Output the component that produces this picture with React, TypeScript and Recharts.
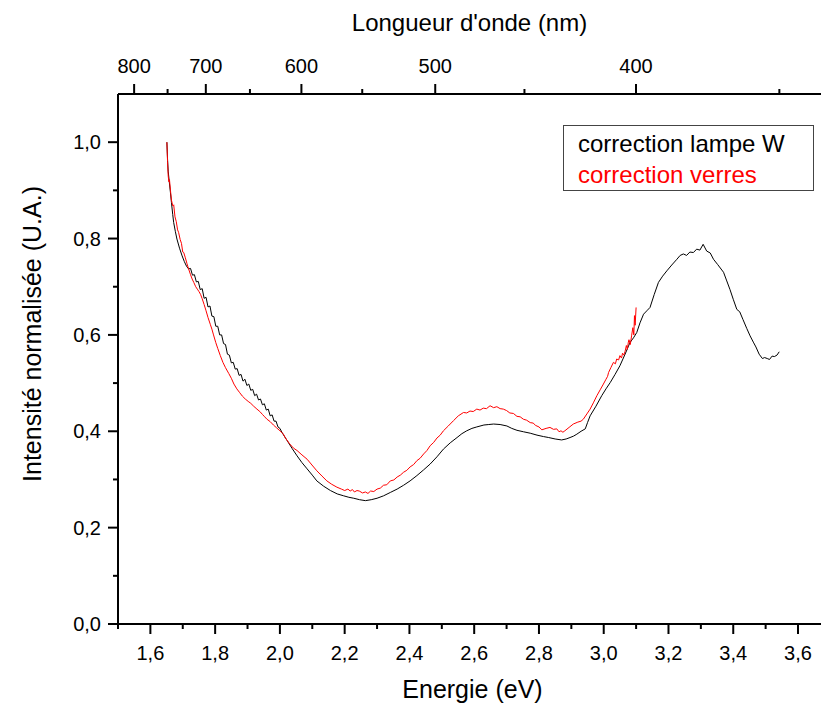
import React from 'react';
import { LineChart, Line, XAxis, YAxis, Label } from 'recharts';

const FONT = '"Liberation Sans", Arial, Helvetica, sans-serif';

// Series: "correction lampe W" (black)
const lampeE = [
  1.651, 1.653, 1.655, 1.658, 1.662, 1.665, 1.669, 1.672, 1.677, 1.682, 1.690, 1.698, 1.705, 1.712, 1.718,
  1.724, 1.730, 1.736, 1.742, 1.748, 1.754, 1.760, 1.766, 1.772, 1.778, 1.784, 1.790, 1.796, 1.802, 1.808,
  1.814, 1.820, 1.826, 1.832, 1.838, 1.844, 1.850, 1.856, 1.862, 1.868, 1.874, 1.880, 1.886, 1.892, 1.898,
  1.904, 1.910, 1.916, 1.922, 1.928, 1.934, 1.940, 1.946, 1.952, 1.958, 1.964, 1.970, 1.976, 1.982, 1.988,
  1.994, 2.000, 2.006, 2.022, 2.038, 2.053, 2.068, 2.084, 2.100, 2.114, 2.135, 2.156, 2.177, 2.197, 2.213,
  2.228, 2.246, 2.264, 2.282, 2.300, 2.320, 2.341, 2.362, 2.382, 2.402, 2.423, 2.444, 2.464, 2.485, 2.505,
  2.526, 2.547, 2.562, 2.577, 2.593, 2.608, 2.630, 2.645, 2.660, 2.680, 2.701, 2.716, 2.732, 2.752, 2.773,
  2.794, 2.814, 2.830, 2.850, 2.870, 2.884, 2.896, 2.907, 2.917, 2.930, 2.943, 2.950, 2.958, 2.976, 2.994,
  3.007, 3.020, 3.035, 3.050, 3.066, 3.081, 3.092, 3.102, 3.112, 3.123, 3.133, 3.143, 3.156, 3.169, 3.182,
  3.195, 3.210, 3.226, 3.236, 3.246, 3.256, 3.266, 3.277, 3.287, 3.297, 3.307, 3.318, 3.329, 3.339, 3.352,
  3.370, 3.380, 3.390, 3.400, 3.411, 3.420, 3.430, 3.442, 3.452, 3.462, 3.470, 3.480, 3.490, 3.497, 3.505,
  3.512, 3.520, 3.527, 3.535, 3.542,
];
const lampeI = [
  1.000, 0.965, 0.940, 0.920, 0.895, 0.875, 0.850, 0.833, 0.815, 0.799, 0.780, 0.764, 0.752, 0.742, 0.737,
  0.738, 0.724, 0.725, 0.710, 0.711, 0.694, 0.696, 0.676, 0.678, 0.658, 0.660, 0.639, 0.638, 0.618, 0.618,
  0.600, 0.600, 0.582, 0.580, 0.560, 0.558, 0.542, 0.543, 0.529, 0.530, 0.516, 0.518, 0.504, 0.508, 0.495,
  0.498, 0.485, 0.487, 0.474, 0.477, 0.465, 0.467, 0.455, 0.457, 0.444, 0.446, 0.432, 0.434, 0.421, 0.421,
  0.409, 0.406, 0.398, 0.381, 0.364, 0.349, 0.335, 0.322, 0.309, 0.297, 0.286, 0.277, 0.270, 0.266, 0.263,
  0.261, 0.258, 0.256, 0.258, 0.261, 0.266, 0.273, 0.280, 0.288, 0.297, 0.308, 0.320, 0.332, 0.347, 0.363,
  0.376, 0.387, 0.395, 0.401, 0.406, 0.409, 0.413, 0.414, 0.415, 0.414, 0.411, 0.406, 0.402, 0.399, 0.396,
  0.392, 0.389, 0.387, 0.384, 0.382, 0.384, 0.387, 0.390, 0.394, 0.400, 0.405, 0.418, 0.432, 0.452, 0.474,
  0.488, 0.501, 0.518, 0.536, 0.560, 0.584, 0.594, 0.605, 0.625, 0.643, 0.650, 0.657, 0.684, 0.709, 0.722,
  0.733, 0.745, 0.757, 0.765, 0.768, 0.765, 0.772, 0.771, 0.778, 0.776, 0.788, 0.774, 0.770, 0.757, 0.746,
  0.730, 0.712, 0.694, 0.674, 0.653, 0.648, 0.632, 0.613, 0.598, 0.585, 0.575, 0.560, 0.551, 0.553, 0.551,
  0.549, 0.556, 0.555, 0.558, 0.565,
];

// Series: "correction verres" (red)
const verresE = [
  1.651, 1.653, 1.655, 1.657, 1.659, 1.662, 1.665, 1.669, 1.672, 1.676, 1.680, 1.684, 1.687, 1.692, 1.696,
  1.700, 1.703, 1.708, 1.713, 1.718, 1.724, 1.729, 1.734, 1.740, 1.745, 1.750, 1.755, 1.760, 1.766, 1.772,
  1.778, 1.785, 1.790, 1.795, 1.802, 1.808, 1.816, 1.824, 1.832, 1.842, 1.850, 1.858, 1.867, 1.876, 1.884,
  1.893, 1.902, 1.910, 1.919, 1.929, 1.938, 1.946, 1.953, 1.960, 1.970, 1.980, 1.990, 2.000, 2.010, 2.017,
  2.030, 2.042, 2.053, 2.068, 2.084, 2.099, 2.114, 2.130, 2.145, 2.160, 2.176, 2.190, 2.200, 2.210, 2.217,
  2.224, 2.230, 2.238, 2.245, 2.255, 2.264, 2.272, 2.280, 2.290, 2.300, 2.310, 2.320, 2.330, 2.341, 2.352,
  2.362, 2.372, 2.382, 2.392, 2.402, 2.413, 2.423, 2.433, 2.444, 2.454, 2.464, 2.475, 2.485, 2.495, 2.505,
  2.520, 2.536, 2.551, 2.567, 2.577, 2.587, 2.597, 2.608, 2.618, 2.628, 2.638, 2.649, 2.660, 2.670, 2.680,
  2.690, 2.700, 2.710, 2.721, 2.732, 2.742, 2.752, 2.762, 2.773, 2.782, 2.790, 2.800, 2.809, 2.822, 2.834,
  2.845, 2.855, 2.862, 2.868, 2.874, 2.880, 2.893, 2.906, 2.920, 2.930, 2.937, 2.948, 2.958, 2.968, 2.979,
  2.989, 2.999, 3.007, 3.012, 3.015, 3.022, 3.030, 3.036, 3.040, 3.046, 3.050, 3.055, 3.058, 3.062, 3.066,
  3.070, 3.073, 3.076, 3.078, 3.082, 3.086, 3.090, 3.093, 3.095, 3.097, 3.100,
];
const verresI = [
  1.000, 0.960, 0.930, 0.918, 0.922, 0.900, 0.880, 0.868, 0.870, 0.845, 0.835, 0.818, 0.813, 0.798, 0.790,
  0.772, 0.771, 0.760, 0.748, 0.737, 0.725, 0.716, 0.709, 0.700, 0.695, 0.690, 0.684, 0.675, 0.663, 0.650,
  0.636, 0.622, 0.612, 0.600, 0.584, 0.572, 0.557, 0.543, 0.532, 0.520, 0.510, 0.498, 0.488, 0.480, 0.473,
  0.467, 0.462, 0.458, 0.452, 0.446, 0.441, 0.435, 0.430, 0.425, 0.420, 0.413, 0.407, 0.401, 0.395, 0.386,
  0.374, 0.365, 0.360, 0.351, 0.342, 0.330, 0.318, 0.307, 0.297, 0.290, 0.284, 0.280, 0.277, 0.280, 0.276,
  0.279, 0.274, 0.277, 0.276, 0.272, 0.274, 0.271, 0.276, 0.275, 0.280, 0.282, 0.288, 0.289, 0.297, 0.299,
  0.305, 0.309, 0.315, 0.319, 0.326, 0.331, 0.339, 0.344, 0.353, 0.360, 0.370, 0.377, 0.386, 0.392, 0.401,
  0.411, 0.422, 0.432, 0.439, 0.438, 0.442, 0.441, 0.446, 0.444, 0.448, 0.447, 0.453, 0.449, 0.451, 0.447,
  0.446, 0.443, 0.438, 0.437, 0.431, 0.430, 0.425, 0.423, 0.418, 0.417, 0.412, 0.409, 0.403, 0.406, 0.408,
  0.404, 0.405, 0.399, 0.401, 0.398, 0.401, 0.408, 0.415, 0.419, 0.421, 0.425, 0.436, 0.446, 0.459, 0.474,
  0.486, 0.498, 0.508, 0.514, 0.522, 0.532, 0.543, 0.540, 0.550, 0.548, 0.557, 0.552, 0.562, 0.558, 0.566,
  0.578, 0.570, 0.585, 0.590, 0.580, 0.598, 0.615, 0.600, 0.640, 0.620, 0.657,
];

const seriesNames = ['correction lampe W', 'correction verres'];
const seriesColors = ['#000000', '#ff0000'];

const energyMajor = [1.6, 1.8, 2.0, 2.2, 2.4, 2.6, 2.8, 3.0, 3.2, 3.4, 3.6];
const energyMinor = [1.5, 1.7, 1.9, 2.1, 2.3, 2.5, 2.7, 2.9, 3.1, 3.3, 3.5];
const wavelengthMajor = [800, 700, 600, 500, 400];
const wavelengthMinor = [750, 650, 550, 450, 350];
const intensityMajor = [0, 0.2, 0.4, 0.6, 0.8, 1.0];
const intensityMinor = [0.1, 0.3, 0.5, 0.7, 0.9];

const HC = 1239.84; // eV·nm

const lampeData = lampeE.map((e, i) => ({ e, v: lampeI[i] }));
const verresData = verresE.map((e, i) => ({ e, v: verresI[i] }));

const energyTicks = [...energyMajor, ...energyMinor].sort((a, b) => a - b);
const topTicks = [...wavelengthMajor, ...wavelengthMinor].map((l) => HC / l).sort((a, b) => a - b);
const yTicks = [...intensityMajor, ...intensityMinor].sort((a, b) => a - b);

const fmt = (v: number) => v.toFixed(1).replace('.', ',');
const isMajorTenth = (v: number) => Math.round(v * 10) % 2 === 0;

const BottomTick = (props: any) => {
  const { x, y, payload } = props;
  const v = payload.value as number;
  const major = isMajorTenth(v);
  return (
    <g>
      <line x1={x} x2={x} y1={y} y2={y + (major ? 10 : 5)} stroke="#000" strokeWidth={2} />
      {major && (
        <text x={x} y={y + 36} textAnchor="middle" fontSize={20} fontFamily={FONT} fill="#000">
          {fmt(v)}
        </text>
      )}
    </g>
  );
};

const TopTick = (props: any) => {
  const { x, y, payload } = props;
  const lambda = Math.round(HC / (payload.value as number));
  const major = lambda % 100 === 0;
  return (
    <g>
      <line x1={x} x2={x} y1={y} y2={y - (major ? 10 : 5)} stroke="#000" strokeWidth={2} />
      {major && (
        <text x={x} y={y - 21} textAnchor="middle" fontSize={20} fontFamily={FONT} fill="#000">
          {lambda}
        </text>
      )}
    </g>
  );
};

const LeftTick = (props: any) => {
  const { x, y, payload } = props;
  const v = payload.value as number;
  const major = isMajorTenth(v);
  return (
    <g>
      <line x1={x} x2={x - (major ? 10 : 5)} y1={y} y2={y} stroke="#000" strokeWidth={2} />
      {major && (
        <text x={x - 17} y={y + 7} textAnchor="end" fontSize={20} fontFamily={FONT} fill="#000">
          {fmt(v)}
        </text>
      )}
    </g>
  );
};

const LegendBox = () => (
  <div
    style={{
      position: 'absolute',
      left: 563,
      top: 125,
      width: 251,
      height: 66,
      boxSizing: 'border-box',
      border: '1px solid #444',
      background: '#fff',
      padding: '2px 0 0 14px',
      fontFamily: FONT,
      fontSize: 24,
      lineHeight: '31px',
      whiteSpace: 'nowrap',
    }}
  >
    {seriesNames.map((n, i) => (
      <div key={n} style={{ color: seriesColors[i] }}>
        {n}
      </div>
    ))}
  </div>
);

export default function App() {
  return (
    <div style={{ position: 'absolute', left: 0, top: 0, width: 821, height: 704, background: '#fff', overflow: 'hidden' }}>
      <LineChart width={821} height={704} margin={{ top: 54, right: 0, bottom: 40, left: 58 }}>
        <XAxis
          xAxisId="bottom"
          dataKey="e"
          type="number"
          orientation="bottom"
          domain={[1.5, 3.671]}
          allowDataOverflow
          ticks={energyTicks}
          interval={0}
          tickSize={0}
          tickMargin={0}
          tickLine={false}
          tick={<BottomTick />}
          axisLine={{ stroke: '#000', strokeWidth: 2 }}
          height={40}
        >
          <Label
            content={(p: any) => {
              const vb = p.viewBox;
              return (
                <text x={vb.x + vb.width / 2 + 3} y={vb.y + vb.height + 34} textAnchor="middle" fontSize={25} fontFamily={FONT} fill="#000">
                  Energie (eV)
                </text>
              );
            }}
          />
        </XAxis>
        <XAxis
          xAxisId="top"
          dataKey="e"
          type="number"
          orientation="top"
          domain={[1.5, 3.671]}
          allowDataOverflow
          ticks={topTicks}
          interval={0}
          tickSize={0}
          tickMargin={0}
          tickLine={false}
          tick={<TopTick />}
          axisLine={{ stroke: '#000', strokeWidth: 2 }}
          height={40}
        >
          <Label
            content={(p: any) => {
              const vb = p.viewBox;
              return (
                <text x={vb.x + vb.width / 2} y={vb.y + vb.height - 63} textAnchor="middle" fontSize={24} fontFamily={FONT} fill="#000">
                  Longueur d'onde (nm)
                </text>
              );
            }}
          />
        </XAxis>
        <YAxis
          type="number"
          domain={[0, 1.1]}
          allowDataOverflow
          ticks={yTicks}
          interval={0}
          tickSize={0}
          tickMargin={0}
          tickLine={false}
          tick={<LeftTick />}
          axisLine={{ stroke: '#000', strokeWidth: 2 }}
          width={60}
        >
          <Label
            content={(p: any) => {
              const vb = p.viewBox;
              const cx = vb.x - 17;
              const cy = vb.y + vb.height / 2 - 25;
              return (
                <text x={cx} y={cy} transform={`rotate(-90 ${cx} ${cy})`} textAnchor="middle" fontSize={25} fontFamily={FONT} fill="#000">
                  Intensité normalisée (U.A.)
                </text>
              );
            }}
          />
        </YAxis>
        {/* invisible series bound to the wavelength (top) axis so that it is computed */}
        <Line
          xAxisId="top"
          data={lampeData}
          dataKey="v"
          type="linear"
          stroke="none"
          strokeWidth={0}
          dot={false}
          activeDot={false}
          isAnimationActive={false}
        />
        <Line
          xAxisId="bottom"
          data={lampeData}
          dataKey="v"
          name={seriesNames[0]}
          type="linear"
          stroke={seriesColors[0]}
          strokeWidth={1}
          dot={false}
          isAnimationActive={false}
        />
        <Line
          xAxisId="bottom"
          data={verresData}
          dataKey="v"
          name={seriesNames[1]}
          type="linear"
          stroke={seriesColors[1]}
          strokeWidth={1}
          dot={false}
          isAnimationActive={false}
        />
      </LineChart>
      <LegendBox />
    </div>
  );
}
